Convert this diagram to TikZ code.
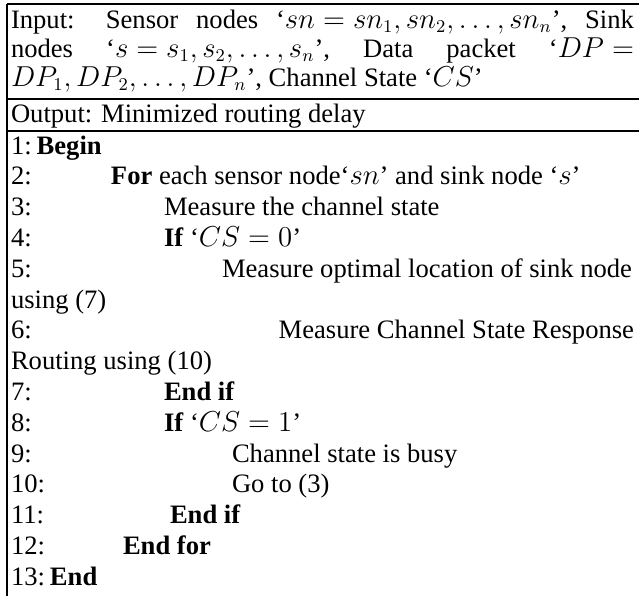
\documentclass[tikz,border=0pt]{standalone}
\usepackage{amsmath}
\usepackage{fontspec}
\setmainfont{Liberation Serif}
\usepackage{tikz}
\usetikzlibrary{calc,positioning}

\begin{document}
\begin{tikzpicture}[x=0.5pt,y=-0.5pt,
  every node/.style={inner sep=0pt,outer sep=0pt,font=\fontsize{13.3}{15.4}\selectfont},
  txt/.style={anchor=base west},
  rtxt/.style={anchor=base east},
  rule/.style={line width=0.8pt}]

  \useasboundingbox (0,0) rectangle (639,596);

  % Frame
  \coordinate (top-l) at (7,4);
  \coordinate (top-r) at (639,4);
  \coordinate (mid-l) at (7,99);
  \coordinate (mid-r) at (639,99);
  \coordinate (body-l) at (7,131);
  \coordinate (body-r) at (639,131);
  \coordinate (bot-l) at (7,596);
  \draw[rule] (top-l) -- (top-r);
  \draw[rule] (mid-l) -- (mid-r);
  \draw[rule] (body-l) -- (body-r);
  \draw[rule] (top-l) -- (bot-l);

  % Input
  \path (11,28) node[txt] (in-1) {\makebox[311.5pt][s]{Input: Sensor nodes \mbox{‘$sn = sn_1, sn_2, \ldots, sn_n$’,} Sink}};
  \path (11,57) node[txt] (in-2) {\makebox[311.5pt][s]{nodes \mbox{‘$s = s_1, s_2, \ldots, s_n$’,} Data packet \mbox{‘$DP =$}}};
  \path (11,86) node[txt] (in-3) {$DP_1, DP_2, \ldots, DP_n$’, Channel State ‘$CS$’};

  % Output
  \path (11,122) node[txt] (out) {Output: Minimized routing delay};

  % Steps
  \path (11,154.0) node[txt] (num-1)  {1:};
  \path (num-1.base east) +(5,0) node[txt] (step-1) {\textbf{Begin}};
  \path (11,184.8) node[txt] (num-2)  {2:};
  \path (111,184.8) node[txt] (step-2) {\textbf{For} each sensor node‘$sn$’ and sink node ‘$s$’};
  \path (11,215.6) node[txt] (num-3)  {3:};
  \path (164,215.6) node[txt] (step-3) {Measure the channel state};
  \path (11,246.4) node[txt] (num-4)  {4:};
  \path (164,246.4) node[txt] (step-4) {\textbf{If} ‘$CS = 0$’};
  \path (11,277.2) node[txt] (num-5)  {5:};
  \path (632,277.2) node[rtxt] (step-5) {Measure optimal location of sink node};
  \path (11,308.0) node[txt] (step-5b) {using (7)};
  \path (11,338.8) node[txt] (num-6)  {6:};
  \path (634,338.8) node[rtxt] (step-6) {Measure Channel State Response};
  \path (11,369.6) node[txt] (step-6b) {Routing using (10)};
  \path (11,400.4) node[txt] (num-7)  {7:};
  \path (164,400.4) node[txt] (step-7) {\textbf{End if}};
  \path (11,431.2) node[txt] (num-8)  {8:};
  \path (164,431.2) node[txt] (step-8) {\textbf{If} ‘$CS = 1$’};
  \path (11,462.0) node[txt] (num-9)  {9:};
  \path (232,462.0) node[txt] (step-9) {Channel state is busy};
  \path (11,492.8) node[txt] (num-10) {10:};
  \path (232,492.8) node[txt] (step-10) {Go to (3)};
  \path (11,523.6) node[txt] (num-11) {11:};
  \path (170,523.6) node[txt] (step-11) {\textbf{End if}};
  \path (11,554.4) node[txt] (num-12) {12:};
  \path (123,554.4) node[txt] (step-12) {\textbf{End for}};
  \path (11,585.2) node[txt] (num-13) {13:};
  \path (num-13.base east) +(5,0) node[txt] (step-13) {\textbf{End}};

\end{tikzpicture}
\end{document}
